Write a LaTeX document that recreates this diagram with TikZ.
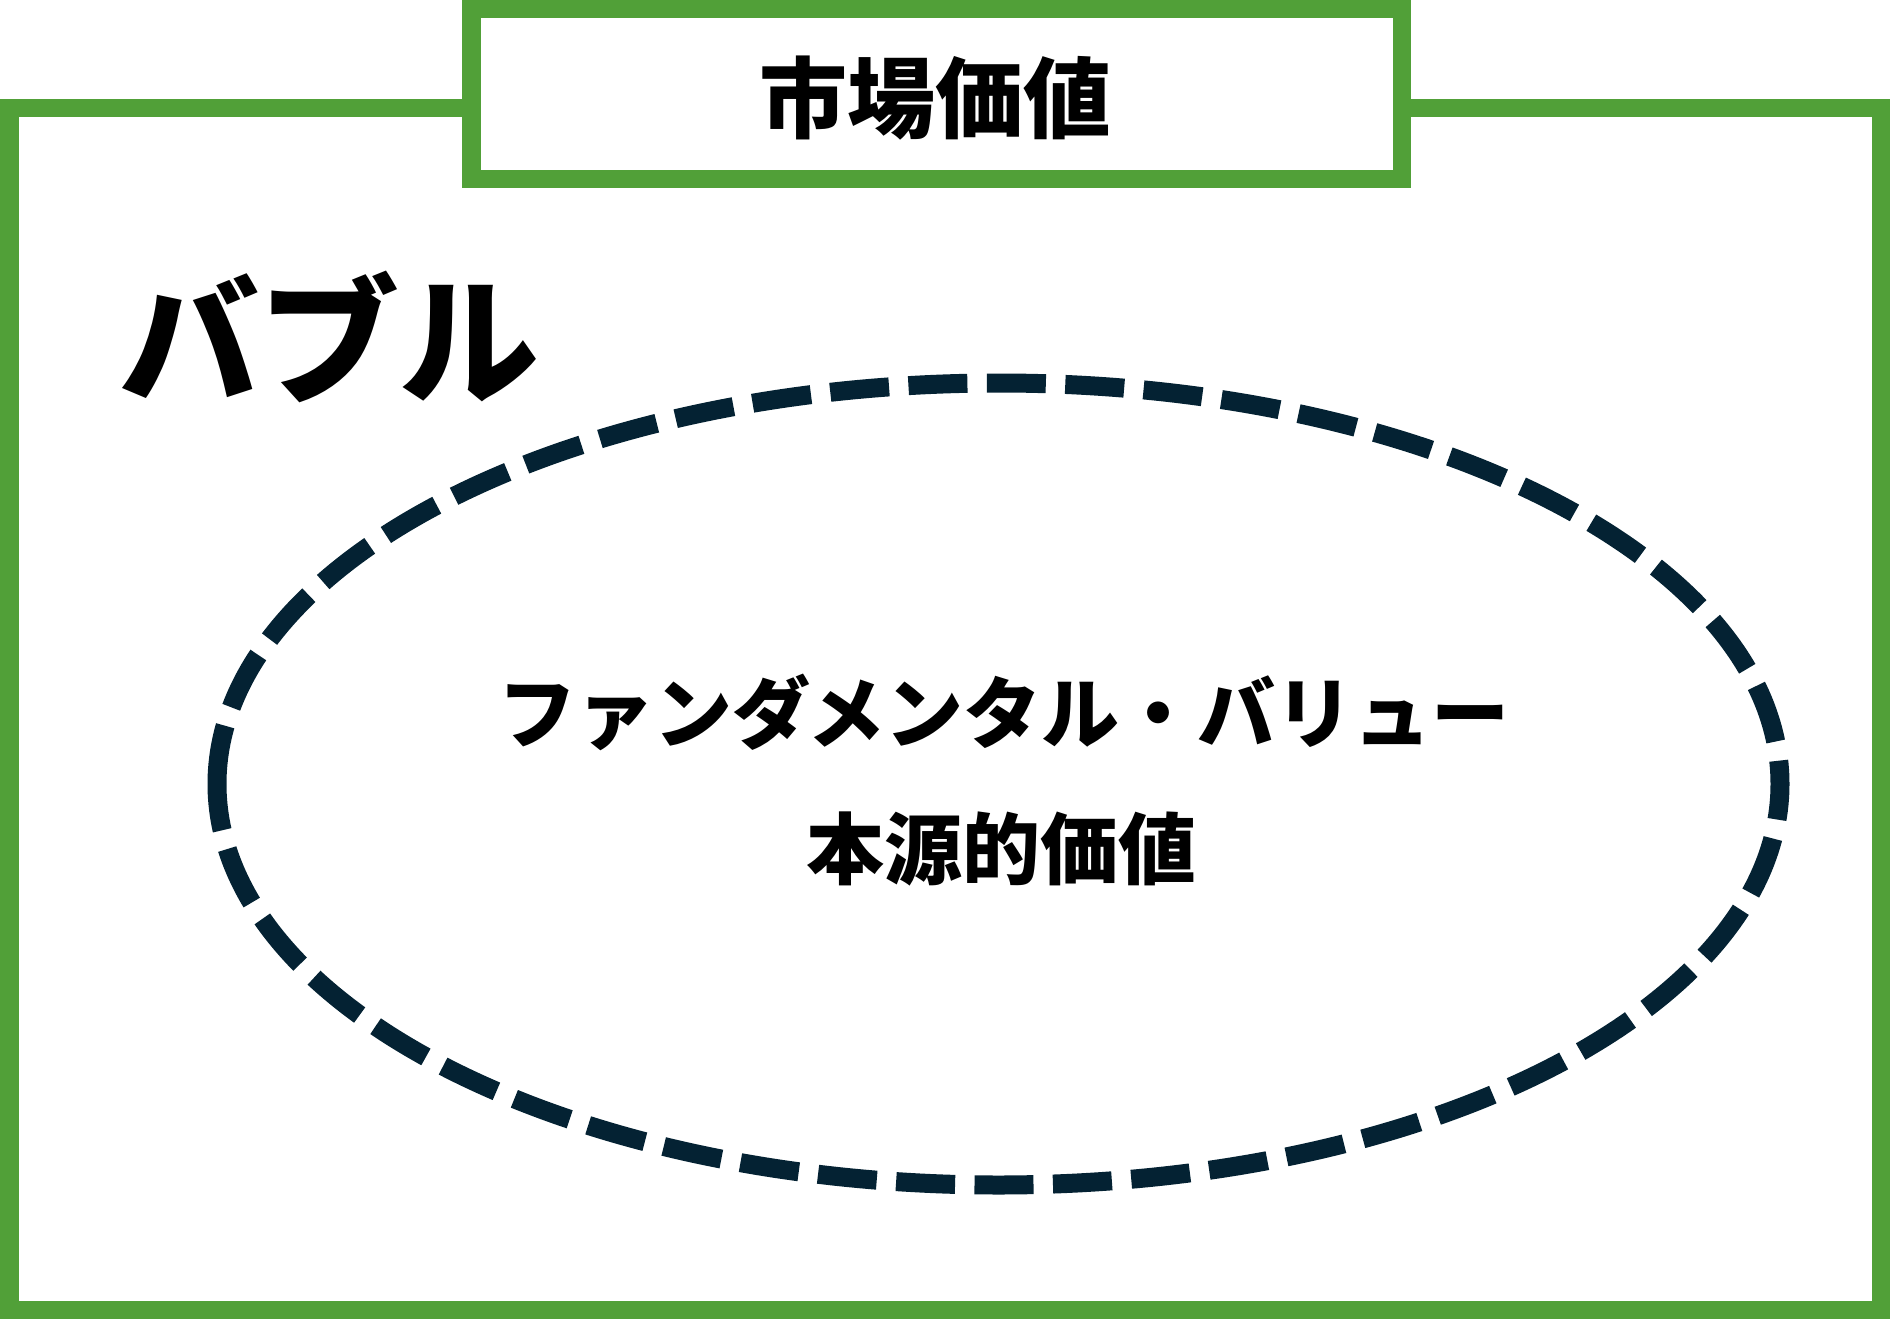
\documentclass[tikz,border=0pt]{standalone}
\usepackage{fontspec}
\newfontfamily\jp{Noto Sans CJK JP}
\definecolor{frameGreen}{RGB}{81,160,56}
\definecolor{inkNavy}{RGB}{4,34,51}
\tikzset{
  frame/.style={draw=frameGreen, line width=18.5pt},
  titlebox/.style={draw=frameGreen, fill=white, line width=18.5pt, inner sep=0pt,
    minimum width=930.5pt, minimum height=169.5pt},
  jptext/.style={inner sep=0pt, text=black, font=\jp\bfseries},
  bubble/.style={draw=inkNavy, line width=19pt, dash pattern=on 59pt off 19.45pt}
}
\begin{document}
\begin{tikzpicture}[x=1pt,y=-1pt]
\useasboundingbox (0,0) rectangle (1890,1319);
\draw[frame] (9.25,108) rectangle (1880.75,1309.75);
\node[titlebox] (titlebox) at (936.5,94) {};
\node[jptext] (title) at (935.5,98) {\fontsize{88pt}{88pt}\selectfont 市場価値};
\node[jptext] (bubbleLabel) at (329,337) {\fontsize{140pt}{140pt}\selectfont バブル};
\draw[bubble, rotate around={180:(998.5,784)}] (998.5,784) ellipse [x radius=781.5, y radius=401];
\node[jptext] (fv) at (1004,712) {\fontsize{78pt}{78pt}\selectfont ファンダメンタル・バリュー};
\node[jptext] (iv) at (1001,849) {\fontsize{78pt}{78pt}\selectfont 本源的価値};
\end{tikzpicture}
\end{document}
